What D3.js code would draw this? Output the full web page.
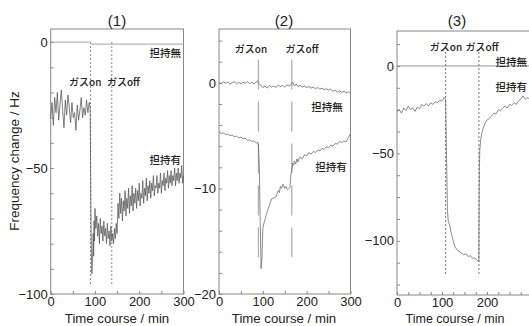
<!DOCTYPE html>
<html>
<head>
<meta charset="utf-8">
<script src="https://cdn.jsdelivr.net/npm/d3@7"></script>
<style>
  body { margin: 0; background: #fff; }
  svg { display: block; font-family: "Liberation Sans", Arial, sans-serif; }
  .jp { font-family: "Noto Sans CJK JP", sans-serif; font-weight: 500; fill: #222; }
</style>
</head>
<body>
<svg id="chart" width="529" height="326"></svg>
<script>
// ---- data ----
// panel (1)
const p1NoSupport = [[0, 0], [89, 0], [92, -0.8], [300, -0.8]];
const p1Support = [
  [0,-30],[3,-24],[6,-33],[9,-22],[12,-28],[15,-20],[18,-31],[21,-25],[24,-19],[27,-27],
  [30,-34],[33,-23],[36,-29],[39,-21],[42,-26],[45,-32],[48,-24],[51,-30],[54,-28],[57,-35],
  [60,-25],[63,-31],[66,-27],[69,-22],[72,-30],[75,-26],[78,-29],[81,-23],[84,-28],[87,-24],
  [89,-26],[90,-45],[91,-70],[92,-84],[93,-92],[94,-88],[95,-83],[96,-76],[97,-85],[98,-71],
  [99,-79],[100,-66],[102,-74],[104,-69],[106,-77],[108,-72],[110,-80],[112,-70],[114,-76],[116,-73],
  [118,-79],[120,-71],[122,-77],[124,-74],[126,-80],[128,-72],[130,-78],[132,-75],[134,-81],[136,-73],
  [138,-79],[140,-76],[142,-80],[144,-74],[146,-78],[148,-72],[150,-76],[152,-64],[154,-70],[156,-60],
  [158,-68],[160,-62],[162,-71],[164,-63],[166,-67],[168,-59],[170,-69],[172,-62],[174,-66],[176,-58],
  [178,-68],[180,-61],[182,-65],[184,-57],[186,-67],[188,-60],[190,-64],[192,-58],[194,-66],[196,-59],
  [198,-63],[200,-56],[202,-65],[204,-60],[206,-62],[208,-55],[210,-64],[212,-58],[214,-61],[216,-54],
  [218,-63],[220,-57],[222,-60],[224,-55],[226,-62],[228,-56],[230,-59],[232,-53],[234,-61],[236,-57],
  [238,-58],[240,-53],[242,-60],[244,-56],[246,-58],[248,-52],[250,-60],[252,-55],[254,-57],[256,-52],
  [258,-59],[260,-54],[262,-56],[264,-51],[266,-58],[268,-53],[270,-56],[272,-51],[274,-57],[276,-53],
  [278,-55],[280,-50],[282,-57],[284,-52],[286,-55],[288,-50],[290,-56],[292,-52],[294,-54],[296,-49],
  [298,-56],[300,-53]
];
const p1Gas = [90, 138];

// panel (2)
const p2NoSupport = [
  [0,0.05],[5,-0.1],[10,0.1],[15,-0.05],[20,0.08],[25,-0.12],[30,0.02],[35,0.1],[40,-0.08],[45,0.05],
  [50,-0.1],[55,0.06],[60,-0.04],[65,0.1],[70,-0.06],[75,0.04],[80,-0.1],[85,0.08],[88,0.2],[90,-0.05],
  [95,-0.2],[100,-0.45],[105,-0.3],[110,-0.5],[115,-0.25],[120,-0.4],[125,-0.3],[130,-0.45],[135,-0.2],[140,-0.35],
  [145,-0.25],[150,-0.4],[155,-0.2],[160,-0.3],[165,-0.15],[168,0.05],[172,-0.3],[176,-0.1],[180,-0.35],[185,-0.25],
  [190,-0.4],[195,-0.3],[200,-0.45],[205,-0.35],[210,-0.5],[215,-0.4],[220,-0.55],[225,-0.45],[230,-0.6],[235,-0.5],
  [240,-0.65],[245,-0.55],[250,-0.7],[255,-0.6],[260,-0.8],[265,-0.7],[270,-0.85],[275,-0.75],[280,-0.9],[285,-0.8],
  [290,-0.95],[295,-0.85],[300,-1.05]
];
const p2Support = [
  [0,-4.6],[5,-4.8],[10,-4.75],[15,-4.9],[20,-4.85],[25,-5.0],[30,-4.95],[35,-5.1],[40,-5.05],[45,-5.2],
  [50,-5.15],[55,-5.3],[60,-5.25],[65,-5.45],[70,-5.4],[75,-5.55],[80,-5.5],[85,-5.7],[88,-5.6],[90,-5.9],
  [92,-8],[94,-13],[96,-17.6],[98,-16.5],[100,-13.8],[103,-13.2],[106,-12.8],[110,-12.2],[115,-11.6],[120,-11.0],
  [125,-10.9],[130,-10.8],[135,-10.2],[138,-10.4],[140,-9.8],[143,-10.0],[146,-9.6],[150,-10.0],[153,-9.8],[156,-10.1],
  [160,-10.0],[162,-9.9],[164,-8.6],[166,-8.3],[168,-7.6],[170,-7.8],[172,-7.4],[175,-7.7],[178,-7.2],[180,-7.5],
  [185,-7.0],[190,-7.2],[195,-6.8],[200,-6.9],[205,-6.6],[210,-6.75],[215,-6.5],[220,-6.6],[225,-6.35],[230,-6.45],
  [235,-6.2],[240,-6.3],[245,-6.05],[250,-6.15],[255,-5.9],[260,-6.0],[265,-5.75],[270,-5.8],[275,-5.55],[280,-5.65],
  [285,-5.5],[290,-5.6],[295,-5.2],[300,-4.8]
];
const p2Gas = [90, 166];

// panel (3)
const p3NoSupport = [[0, 0], [300, 0]];
const p3Support = [
  [0,-26],[5,-25],[10,-27],[15,-24],[20,-25.5],[25,-23],[30,-25],[35,-24],[40,-26],[45,-23.5],
  [50,-24.5],[55,-22],[60,-23],[65,-21.5],[70,-23],[75,-21],[80,-22],[85,-20.5],[90,-21],[95,-19.5],
  [100,-20],[105,-18],[108,-19],[110,-50],[112,-82],[114,-89],[117,-91],[120,-95],[124,-99],[128,-103],
  [133,-105],[138,-106],[143,-107],[148,-108],[153,-107.5],[158,-109],[163,-108.5],[168,-110],[173,-110],[178,-111],
  [182,-112],[183,-60],[184,-48],[186,-42],[188,-39],[191,-36],[195,-33],[200,-31],[205,-30],[210,-28.5],
  [215,-27],[220,-27.5],[225,-25],[230,-25.5],[235,-24],[240,-23],[245,-24],[250,-22],[255,-22.5],[260,-21],
  [265,-22],[270,-20],[275,-19],[280,-17],[285,-19],[290,-18],[295,-19],[300,-17]
];
const p3Gas = [108, 182];

const panels = [
  { title: "(1)", titleX: 117, labelX: 117, x0: 50.7, x1: 183.5, y0: 29, y1: 294, yDom: [-100, 5.2],
    majorY: [0, -50, -100], majorX: [0, 100, 200, 300], minorStep: 10, xMinor: 50,
    gasStyle: "2,2", gasColor: "#777", gasW: 0.9,
    gasY: [0, -97], lineColor: "#555", noColor: "#999", xLabelSize: 13.2,
    series: [p1NoSupport, p1Support], gas: p1Gas,
    texts: [
      { s: "担持無", x: 181, y: 57, a: "end", f: 10.5 },
      { s: "担持有", x: 181, y: 164, a: "end", f: 10.5 },
      { s: "ガスon", x: 69, y: 86, a: "start", f: 10 },
      { s: "ガスoff", x: 107, y: 86, a: "start", f: 10 }
    ] },
  { title: "(2)", titleX: 284, labelX: 284, x0: 219, x1: 350.5, y0: 29, y1: 294, yDom: [-20, 5.1],
    majorY: [0, -10, -20], majorX: [0, 100, 200, 300], minorStep: 2, xMinor: 50,
    gasStyle: "30,12", gasColor: "#b0b0b0", gasW: 1.3,
    gasY: [2.2, -16.5], lineColor: "#666", noColor: "#777", xLabelSize: 13.2,
    series: [p2NoSupport, p2Support], gas: p2Gas,
    texts: [
      { s: "ガスon", x: 251, y: 53, a: "middle", f: 10 },
      { s: "ガスoff", x: 302, y: 53, a: "middle", f: 10 },
      { s: "担持無", x: 327, y: 111, a: "middle", f: 10.5 },
      { s: "担持有", x: 331, y: 171, a: "middle", f: 10.5 }
    ] },
  { title: "(3)", titleX: 457, labelX: 455, x0: 397, x1: 532, y0: 31, y1: 295, yDom: [-131, 20],
    majorY: [0, -50, -100], majorX: [0, 100, 200], minorStep: 12.5, xMinor: 25,
    gasStyle: "2,2", gasColor: "#666", gasW: 0.9,
    gasY: [8, -120], lineColor: "#666", noColor: "#888", xLabelSize: 12.5,
    series: [p3NoSupport, p3Support], gas: p3Gas,
    texts: [
      { s: "ガスon", x: 446, y: 51, a: "middle", f: 10 },
      { s: "ガスoff", x: 482, y: 51, a: "middle", f: 10 },
      { s: "担持無", x: 527, y: 66, a: "end", f: 10.5 },
      { s: "担持有", x: 527, y: 91, a: "end", f: 10.5 }
    ] }
];

const svg = d3.select("#chart");

panels.forEach((p) => {
  const x = d3.scaleLinear().domain([0, 300]).range([p.x0, p.x1]);
  const y = d3.scaleLinear().domain(p.yDom).range([p.y1, p.y0]);
  const g = svg.append("g");

  // frame
  g.append("rect")
    .attr("x", p.x0).attr("y", p.y0)
    .attr("width", p.x1 - p.x0).attr("height", p.y1 - p.y0)
    .attr("fill", "none").attr("stroke", "#888").attr("stroke-width", 1);

  // y axis: labelled majors + inward minors
  const minorY = d3.range(0, p.yDom[0] - 0.01, -p.minorStep).concat(
    d3.range(p.minorStep, p.yDom[1], p.minorStep));
  g.append("g")
    .attr("transform", `translate(${p.x0},0)`)
    .call(d3.axisLeft(y).tickValues(minorY).tickSize(-3).tickFormat(""))
    .call(a => a.select(".domain").remove())
    .call(a => a.selectAll("line").attr("stroke", "#888"));
  g.append("g")
    .attr("transform", `translate(${p.x0},0)`)
    .call(d3.axisLeft(y).tickValues(p.majorY).tickSize(0).tickPadding(3))
    .call(a => a.select(".domain").remove())
    .call(a => a.selectAll("text").attr("font-size", 13).attr("fill", "#222")
      .attr("font-family", "Liberation Sans, Arial, sans-serif"));

  // x axis
  g.append("g")
    .attr("transform", `translate(0,${p.y1})`)
    .call(d3.axisBottom(x).tickValues(d3.range(0, 301, p.xMinor)).tickSize(-3).tickFormat(""))
    .call(a => a.select(".domain").remove())
    .call(a => a.selectAll("line").attr("stroke", "#888"));
  g.append("g")
    .attr("transform", `translate(0,${p.y1})`)
    .call(d3.axisBottom(x).tickValues(p.majorX).tickSize(0).tickPadding(3))
    .call(a => a.select(".domain").remove())
    .call(a => a.selectAll("text").attr("font-size", 13).attr("fill", "#222")
      .attr("font-family", "Liberation Sans, Arial, sans-serif"));

  // gas on / off markers
  g.selectAll(".gas").data(p.gas).join("line")
    .attr("x1", d => x(d)).attr("x2", d => x(d))
    .attr("y1", y(p.gasY[0])).attr("y2", y(p.gasY[1]))
    .attr("stroke", p.gasColor).attr("stroke-width", p.gasW)
    .attr("stroke-dasharray", p.gasStyle);

  // data lines
  const line = d3.line().x(d => x(d[0])).y(d => y(d[1]));
  g.append("path").datum(p.series[0])
    .attr("d", line).attr("fill", "none")
    .attr("stroke", p.noColor).attr("stroke-width", 0.9);
  g.append("path").datum(p.series[1])
    .attr("d", line).attr("fill", "none")
    .attr("stroke", p.lineColor).attr("stroke-width", 0.75)
    .attr("stroke-linejoin", "round");

  // annotations
  g.selectAll(".lab").data(p.texts).join("text")
    .attr("class", "jp")
    .attr("x", d => d.x).attr("y", d => d.y)
    .attr("text-anchor", d => d.a)
    .attr("font-size", d => d.f)
    .text(d => d.s);

  // titles
  g.append("text")
    .attr("x", p.titleX).attr("y", 26)
    .attr("text-anchor", "middle").attr("font-size", 15).attr("fill", "#222")
    .text(p.title);

  g.append("text")
    .attr("x", p.labelX).attr("y", 323)
    .attr("text-anchor", "middle").attr("font-size", p.xLabelSize).attr("fill", "#222")
    .text("Time course / min");
});

svg.append("text")
  .attr("transform", "translate(19,161) rotate(-90)")
  .attr("text-anchor", "middle").attr("font-size", 13.5).attr("fill", "#222")
  .text("Frequency change / Hz");
</script>
</body>
</html>
